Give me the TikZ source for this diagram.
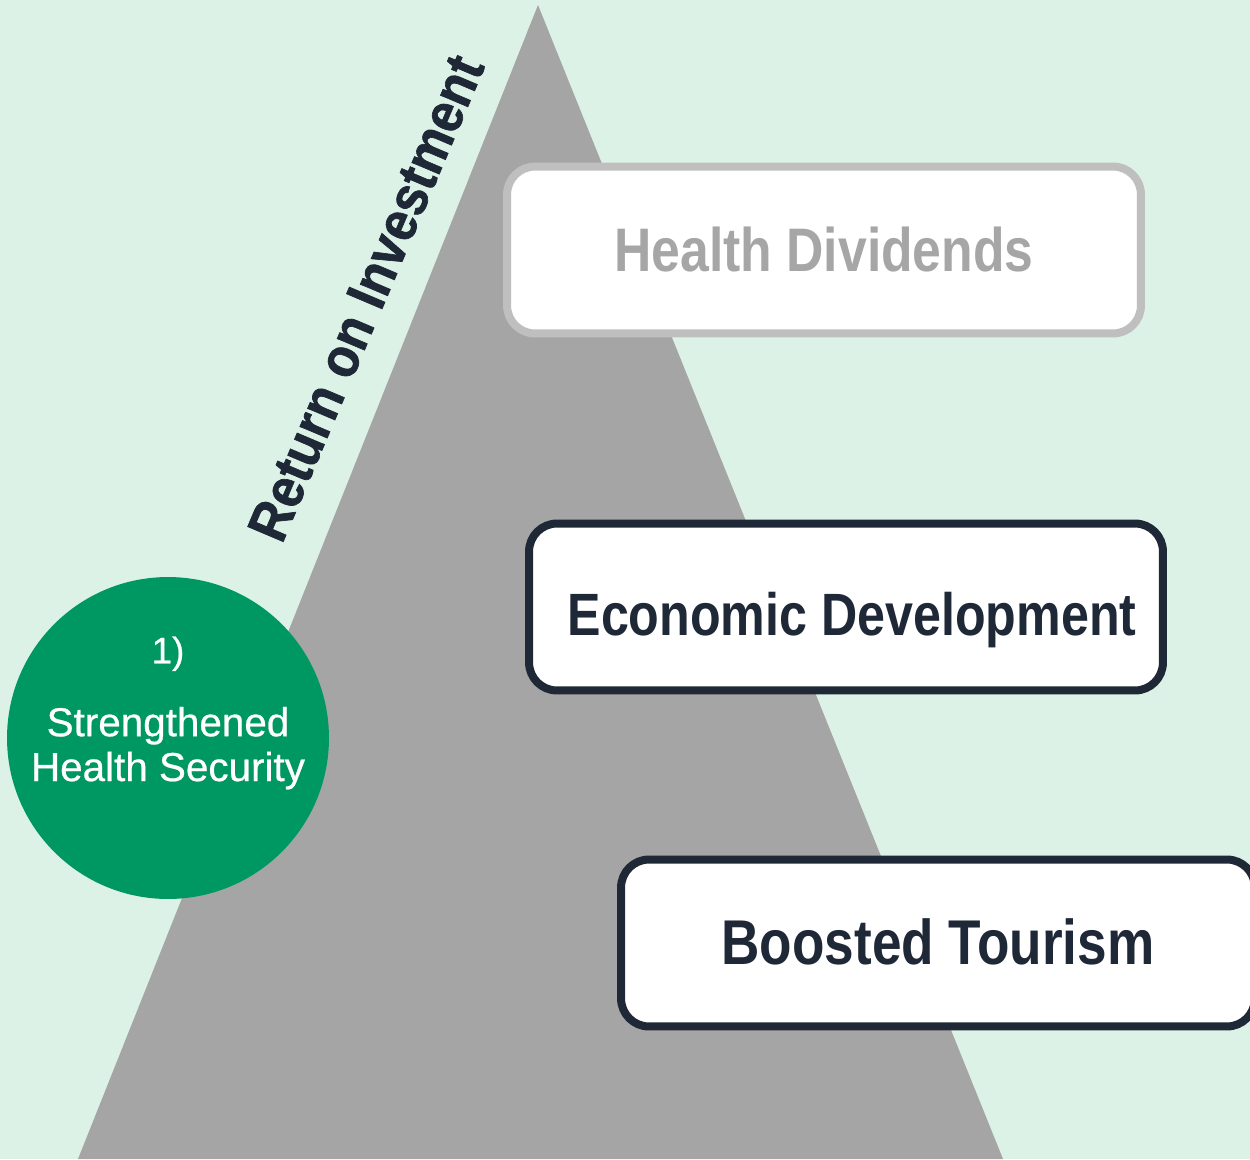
\documentclass[tikz,border=0pt]{standalone}
\usepackage{fontspec}
\setmainfont{Liberation Sans}
\newfontfamily\condfont[FakeStretch=0.84]{Liberation Sans}
\newfontfamily\roifont[FakeStretch=0.9, FakeBold=1.2]{Liberation Sans}
\newfontfamily\circfont[FakeBold=0.6]{Liberation Sans}
\usepackage{tikz}
\usetikzlibrary{positioning}

\definecolor{mintbg}{RGB}{221,242,230}
\definecolor{pyrgray}{RGB}{165,165,165}
\definecolor{hsgreen}{RGB}{0,152,98}
\definecolor{navy}{RGB}{30,40,54}
\definecolor{softgray}{RGB}{191,191,191}
\definecolor{dimtext}{RGB}{166,166,166}

\tikzset{
  benefit/.style={draw=navy, line width=0.16cm, fill=white, rounded corners=0.56cm,
    minimum width=12.68cm, minimum height=3.34cm, inner sep=0pt, text=navy,
    text height=25pt, text depth=0pt,
    font=\condfont\bfseries\fontsize{35}{40}\selectfont},
  faded/.style={benefit, draw=softgray, text=dimtext}
}

\begin{document}
\begin{tikzpicture}[x=0.02cm, y=-0.02cm]
    % Background
    \fill[mintbg] (0,0) rectangle (1250,1159);
    \useasboundingbox (0,0) rectangle (1250,1159);

    % The pyramid
    \fill[pyrgray] (538,5) -- (1003,1159) -- (78,1159) -- cycle;

    % Label along the left side
    \node[rotate=67, text=navy, font=\roifont\bfseries\fontsize{32}{36}\selectfont] (roi) at (366,298) {Return on Investment};

    % Boxes on the right side
    \node[faded] (dividends) at (824,250) {Health Dividends};
    \node[benefit, text height=33pt, font=\condfont\bfseries\fontsize{34}{40}\selectfont] (economy) at (846,607) {\hspace{0.24cm}Economic Development};
    \node[benefit, font=\condfont\bfseries\fontsize{36}{40}\selectfont] (tourism) at (938,943) {Boosted Tourism};

    % Circle at the base
    \node[circle, fill=hsgreen, minimum size=6.44cm, inner sep=0pt] (security) at (168,738) {};
    \node[align=center, text=white, font=\circfont\fontsize{23}{25.5}\selectfont] (securitytext) at (168,713)
      {{\fontsize{21}{24}\selectfont 1)}\\[16pt]Strengthened\\Health Security};
\end{tikzpicture}
\end{document}
